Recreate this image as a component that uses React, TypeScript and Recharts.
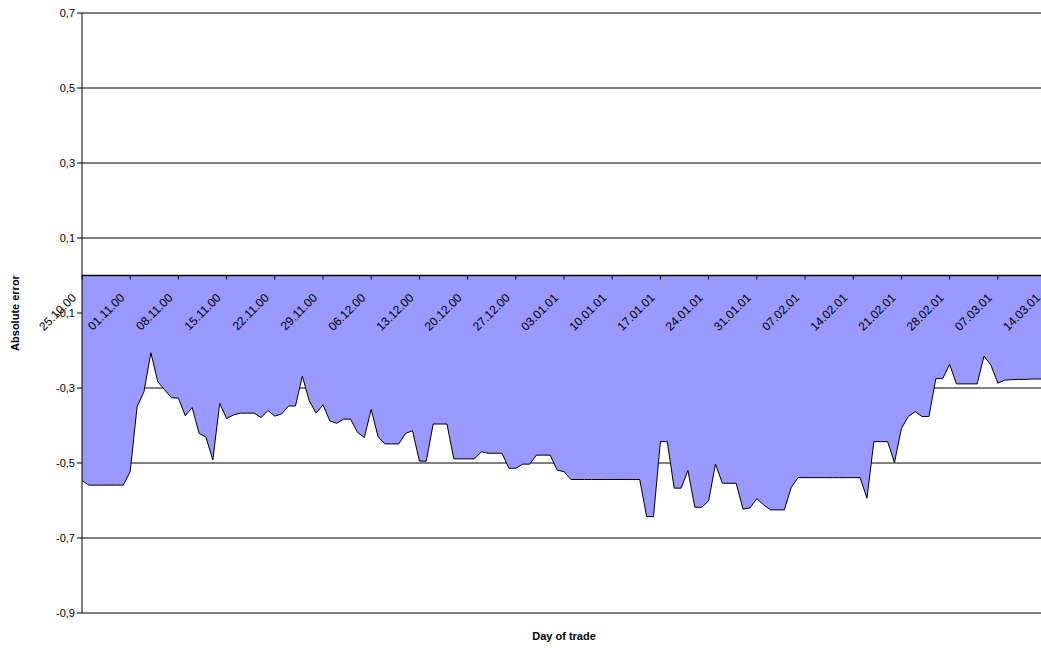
import React from 'react';
import {
  AreaChart,
  Area,
  XAxis,
  YAxis,
  CartesianGrid,
  ReferenceLine,
  ReferenceDot,
} from 'recharts';

// one value per calendar day, starting 25.10.00
const absoluteError = [
  -0.547, -0.559, -0.559, -0.559, -0.559, -0.559, -0.559, -0.523, -0.35, -0.31,
  -0.206, -0.283, -0.305, -0.326, -0.327, -0.374, -0.352, -0.421, -0.431, -0.492,
  -0.341, -0.381, -0.372, -0.367, -0.367, -0.367, -0.379, -0.36, -0.375, -0.369,
  -0.348, -0.348, -0.268, -0.334, -0.367, -0.345, -0.388, -0.394, -0.383, -0.383,
  -0.418, -0.432, -0.357, -0.43, -0.449, -0.449, -0.449, -0.421, -0.414, -0.495,
  -0.495, -0.396, -0.396, -0.396, -0.489, -0.489, -0.489, -0.489, -0.47, -0.474,
  -0.474, -0.474, -0.514, -0.514, -0.503, -0.503, -0.479, -0.479, -0.479, -0.519,
  -0.523, -0.544, -0.544, -0.544, -0.544, -0.544, -0.544, -0.544, -0.544, -0.544,
  -0.544, -0.544, -0.643, -0.643, -0.443, -0.443, -0.567, -0.567, -0.52, -0.618,
  -0.618, -0.601, -0.503, -0.554, -0.554, -0.554, -0.623, -0.62, -0.595, -0.612,
  -0.625, -0.625, -0.625, -0.565, -0.539, -0.539, -0.539, -0.539, -0.539, -0.539,
  -0.539, -0.539, -0.539, -0.539, -0.594, -0.443, -0.443, -0.443, -0.499, -0.408,
  -0.376, -0.363, -0.376, -0.376, -0.275, -0.275, -0.237, -0.289, -0.289, -0.289,
  -0.289, -0.215, -0.239, -0.287, -0.279, -0.278, -0.277, -0.277, -0.276, -0.276,
  -0.276,
];

// a label every 7th day
const weekLabels = [
  '25.10.00', '01.11.00', '08.11.00', '15.11.00', '22.11.00', '29.11.00', '06.12.00',
  '13.12.00', '20.12.00', '27.12.00', '03.01.01', '10.01.01', '17.01.01', '24.01.01',
  '31.01.01', '07.02.01', '14.02.01', '21.02.01', '28.02.01', '07.03.01', '14.03.01',
];

const yTicks = [-0.9, -0.7, -0.5, -0.3, -0.1, 0.1, 0.3, 0.5, 0.7];

const FONT = 'Arial, "Liberation Sans", sans-serif';

const data = absoluteError.map((v, i) => ({ day: i, err: v }));

const fmtY = (v: number) => v.toFixed(1).replace('.', ',');

const WeekTick = ({ cx, cy, text }: any) => {
  const tx = cx - 5;
  const ty = cy + 23;
  return (
    <g>
      <line x1={cx} y1={cy} x2={cx} y2={cy + 4} stroke="#000" />
      <text
        x={tx}
        y={ty}
        transform={`rotate(-45 ${tx} ${ty})`}
        textAnchor="end"
        fontSize={12}
        fontFamily={FONT}
        fill="#000"
      >
        {text}
      </text>
    </g>
  );
};

const YTitle = ({ viewBox }: any) => {
  const x = viewBox.x + 19;
  const y = viewBox.y + viewBox.height / 2;
  return (
    <text
      x={x}
      y={y}
      transform={`rotate(-90 ${x} ${y})`}
      textAnchor="middle"
      fontSize={11}
      fontWeight="bold"
      fontFamily={FONT}
      fill="#000"
    >
      Absolute error
    </text>
  );
};

export default function App() {
  return (
    <div
      style={{
        position: 'fixed',
        left: 0,
        top: 0,
        width: 1041,
        height: 652,
        overflow: 'hidden',
        background: '#fff',
      }}
    >
      <AreaChart
        width={1060}
        height={652}
        data={data}
        margin={{ top: 13, right: 14, bottom: 0, left: 0 }}
      >
        <CartesianGrid vertical={false} stroke="#000" />
        <XAxis
          dataKey="day"
          type="number"
          domain={[0, 140]}
          tick={false}
          axisLine={false}
          tickLine={false}
          height={39}
          label={{
            value: 'Day of trade',
            position: 'insideBottom',
            offset: 12,
            fontSize: 11,
            fontWeight: 'bold',
            fontFamily: FONT,
            fill: '#000',
          }}
        />
        <YAxis
          type="number"
          domain={[-0.9, 0.7]}
          ticks={yTicks}
          interval={0}
          width={82}
          tickFormatter={fmtY}
          tickSize={5}
          tickMargin={2}
          axisLine={{ stroke: '#000' }}
          tickLine={{ stroke: '#000' }}
          tick={{ fontSize: 11, fontFamily: FONT, fill: '#000' }}
          label={<YTitle />}
        />
        <Area
          type="linear"
          dataKey="err"
          baseValue={0}
          stroke="#000"
          strokeWidth={1}
          fill="#9999FF"
          fillOpacity={1}
          dot={false}
          activeDot={false}
          isAnimationActive={false}
        />
        <ReferenceLine y={0} stroke="#000" strokeWidth={1.5} />
        {weekLabels.map((lbl, k) => (
          <ReferenceDot
            key={lbl}
            x={k * 7}
            y={0}
            r={0}
            ifOverflow="visible"
            shape={(p: any) => <WeekTick cx={p.cx} cy={p.cy} text={lbl} />}
          />
        ))}
      </AreaChart>
    </div>
  );
}
